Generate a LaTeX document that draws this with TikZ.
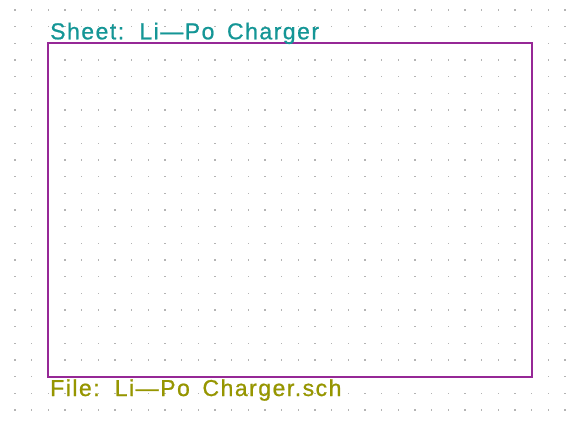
\documentclass[tikz,border=0pt]{standalone}
\usepackage{fontspec}
\setmainfont{Liberation Sans}[LetterSpace=6.5, WordSpace=1.6, FakeBold=0.8]
\definecolor{sheetborder}{RGB}{150,40,150}
\definecolor{sheetname}{RGB}{20,150,150}
\definecolor{sheetfile}{RGB}{150,150,0}
\definecolor{griddot}{RGB}{180,180,180}
\tikzset{
  griddotstyle/.style={fill=griddot},
  sheetbox/.style={draw=sheetborder, line width=2pt},
  nametext/.style={text=sheetname, inner sep=0pt, anchor=base west, font=\fontsize{23}{23}\selectfont},
  filetext/.style={text=sheetfile, inner sep=0pt, anchor=base west, font=\fontsize{23}{23}\selectfont},
}
\begin{document}
\begin{tikzpicture}[x=1pt,y=-1pt]
\useasboundingbox (0,0) rectangle (580,427);
\fill[white] (0,0) rectangle (580,427);
\foreach \i in {0,...,33}{
  \foreach \j in {0,...,24}{
    \fill[griddotstyle] ({15+16.667*\i-0.8},{10+16.667*\j-0.8}) rectangle ++(1.6,1.6);
  }
}
\coordinate (tl) at (48.3,43.3);
\coordinate (br) at (531.7,376.7);
\draw[sheetbox] (tl) rectangle (br);
\node[nametext] (name) at (50,39.3) {Sheet: Li—Po Charger};
\node[filetext] (file) at (50,396) {File: Li—Po Charger.sch};
\end{tikzpicture}
\end{document}
